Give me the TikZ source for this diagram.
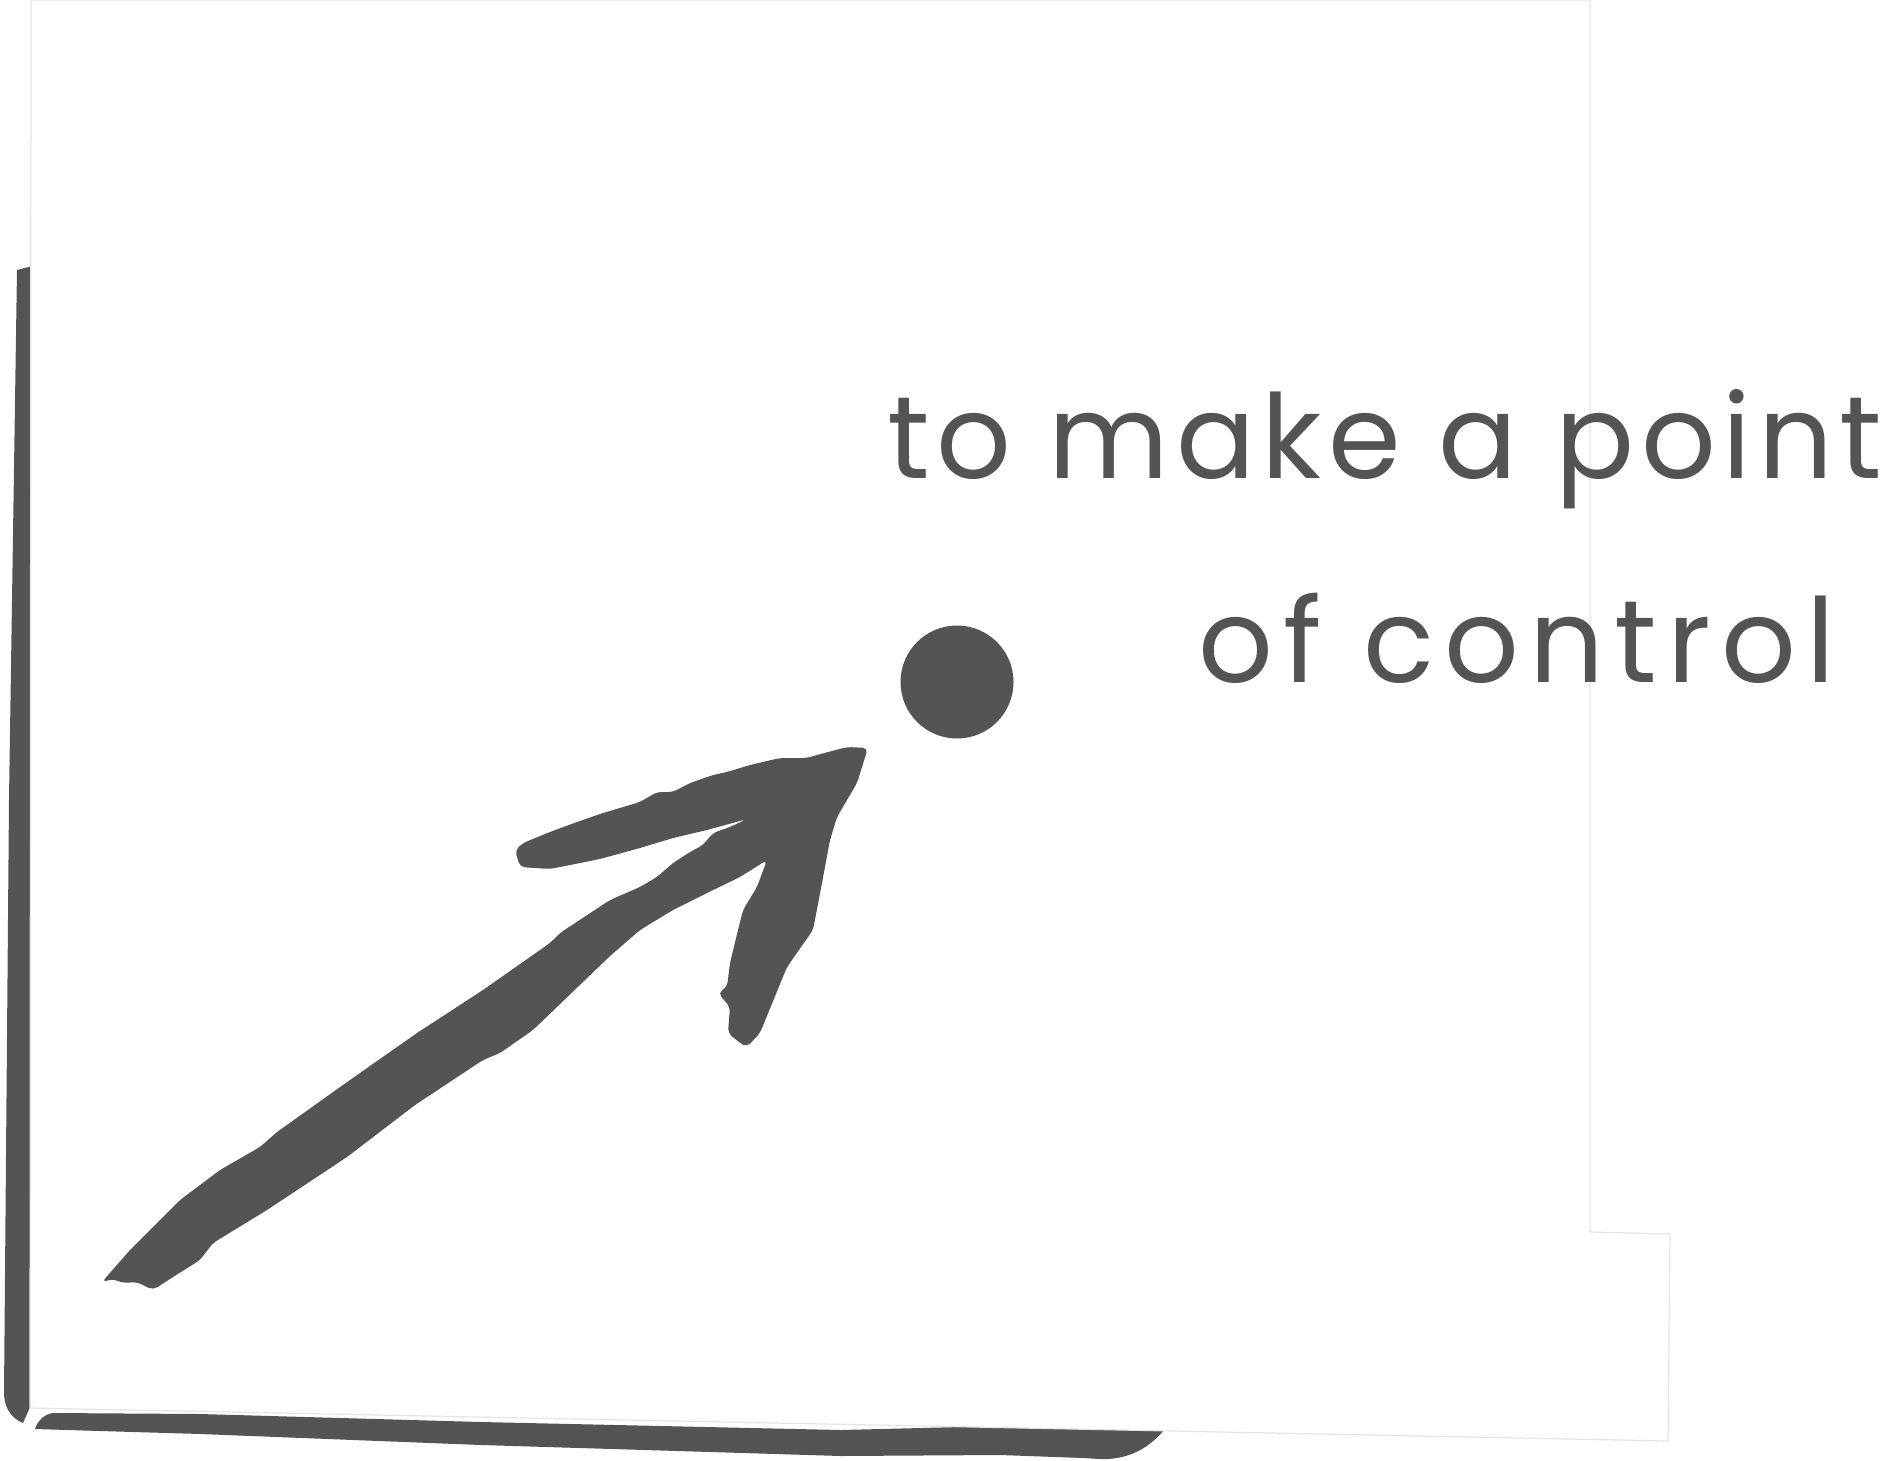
\documentclass[tikz,border=0pt]{standalone}
\usepackage{fontspec}
\newfontfamily\handfontA[LetterSpace=5.6]{Poppins}
\newfontfamily\handfontB[LetterSpace=8.7]{Poppins}
\definecolor{ink}{RGB}{84,84,84}
\definecolor{paperline}{RGB}{226,230,230}
\begin{document}
\begin{tikzpicture}[x=1pt,y=-1pt,
  inkfill/.style={fill=ink,draw=none},
  paper/.style={fill=white,draw=paperline,line width=1.2pt},
  handtext/.style={text=ink,inner sep=0pt}]
\useasboundingbox (0,0) rectangle (1884,1461);
% shadow strokes behind the paper
\fill[inkfill] (17,270) -- (40,264) -- (40,1400) -- (31,1405) -- (23,1423)
  .. controls (13,1419) and (5,1410) .. (4,1395) -- (9,800) -- cycle;
\fill[inkfill] (53,1413) -- (200,1414) -- (481,1422) -- (841,1430) -- (961,1427)
  -- (1165,1429)
  .. controls (1150,1447) and (1130,1460) .. (1100,1459)
  -- (1083,1458) -- (1000,1455) -- (841,1456) -- (481,1445) -- (200,1434)
  -- (100,1431) -- (35,1429)
  .. controls (38,1420) and (45,1414) .. (53,1413) -- cycle;
% paper
\draw[paper] (31,0) -- (1590,0) -- (1590,1232) -- (1670,1234) -- (1668,1441) -- (30,1408) -- cycle;
% dot
\node[circle,inkfill,minimum size=113pt,inner sep=0pt] (dot) at (957,682) {};
% arrow
\coordinate (tail) at (125,1285);
\coordinate (tip) at (868,748);
\fill[inkfill,rounded corners=5pt]
  (102,1282) -- (130,1250) -- (160,1220) -- (180,1200) -- (220,1170)
  -- (260,1147) -- (277,1132) -- (350,1080) -- (417,1033) -- (483,990)
  -- (550,943) -- (560,933) -- (610,900) -- (640,887) -- (657,877)
  -- (673,863) -- (690,852) -- (703,845) -- (713,833) -- (730,827) -- (747,819)
  -- (707,830) -- (673,838) -- (640,848) -- (600,859) -- (550,869) -- (520,867)
  -- (515,850) -- (523,843) -- (550,832) -- (577,822) -- (603,813) -- (640,802)
  -- (657,792) -- (673,792) -- (690,783) -- (713,775) -- (727,772) -- (750,765)
  -- (780,758) -- (807,758) -- (817,755) -- (847,747) -- (tip)
  -- (857,783) -- (837,817) -- (830,840) -- (822,883) -- (813,930) -- (787,967)
  -- (760,1033) -- (747,1047) -- (740,1043) -- (728,1033) -- (730,1007)
  -- (718,993) -- (727,987) -- (730,963) -- (738,930) -- (743,910)
  -- (757,887) -- (767,860)
  -- (740,877) -- (707,893) -- (673,910) -- (640,930) -- (610,956) -- (533,1030)
  -- (500,1053) -- (483,1060) -- (415,1105) -- (347,1157) -- (267,1210)
  -- (213,1243) -- (200,1260) -- (173,1277) -- (153,1290)
  -- (137,1282) -- (123,1283) -- (113,1279) -- cycle;
% text
\node[handtext,font=\handfontA\fontsize{117}{117}\selectfont,anchor=base west] (line1) at (887,478) {to make a point};
\node[handtext,font=\handfontB\fontsize{117}{117}\selectfont,anchor=base west] (line2) at (1198,682) {of control};
\end{tikzpicture}
\end{document}
